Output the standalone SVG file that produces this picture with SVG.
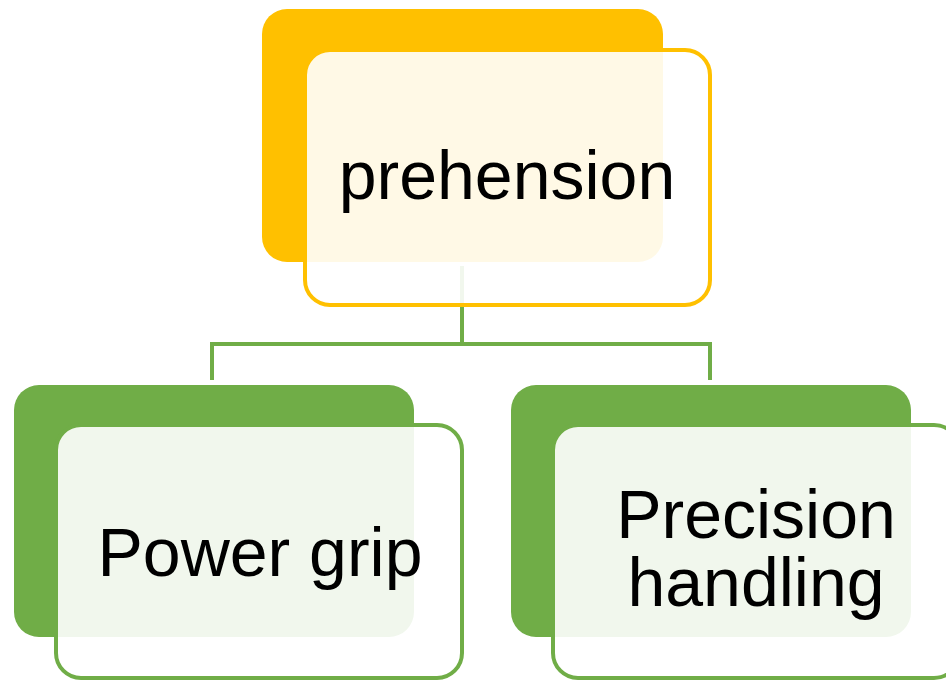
<svg xmlns="http://www.w3.org/2000/svg" width="946" height="681" viewBox="0 0 946 681">
<style>
.back-y{fill:#FFC000}
.front-y{fill:#FFFFFF;fill-opacity:0.9;stroke:#FFC000;stroke-width:4}
.back-g{fill:#70AD47}
.front-g{fill:#FFFFFF;fill-opacity:0.9;stroke:#70AD47;stroke-width:4}
.conn{fill:none;stroke:#70AD47;stroke-width:4}
.lbl{font-family:"Liberation Sans",Arial,sans-serif;font-size:68px;fill:#000000;text-anchor:middle}
</style>
<rect width="946" height="681" fill="#FFFFFF"/>
<g id="connectors">
<path class="conn" d="M462,266 V344 H212 V380"/>
<path class="conn" d="M462,344 H710 V380"/>
</g>
<g id="node-prehension">
<rect class="back-y" x="262" y="9" width="401" height="253" rx="25"/>
<rect class="front-y" x="305" y="50" width="405" height="255" rx="25"/>
<text class="lbl" x="507" y="199">prehension</text>
</g>
<g id="node-power-grip">
<rect class="back-g" x="14" y="385" width="400" height="252" rx="25"/>
<rect class="front-g" x="56" y="425" width="406" height="253" rx="25"/>
<text class="lbl" x="260" y="576">Power grip</text>
</g>
<g id="node-precision-handling">
<rect class="back-g" x="511" y="385" width="400" height="252" rx="25"/>
<rect class="front-g" x="553" y="425" width="406" height="253" rx="25"/>
<text class="lbl" x="756" y="538">Precision</text>
<text class="lbl" x="756" y="606">handling</text>
</g>
</svg>
